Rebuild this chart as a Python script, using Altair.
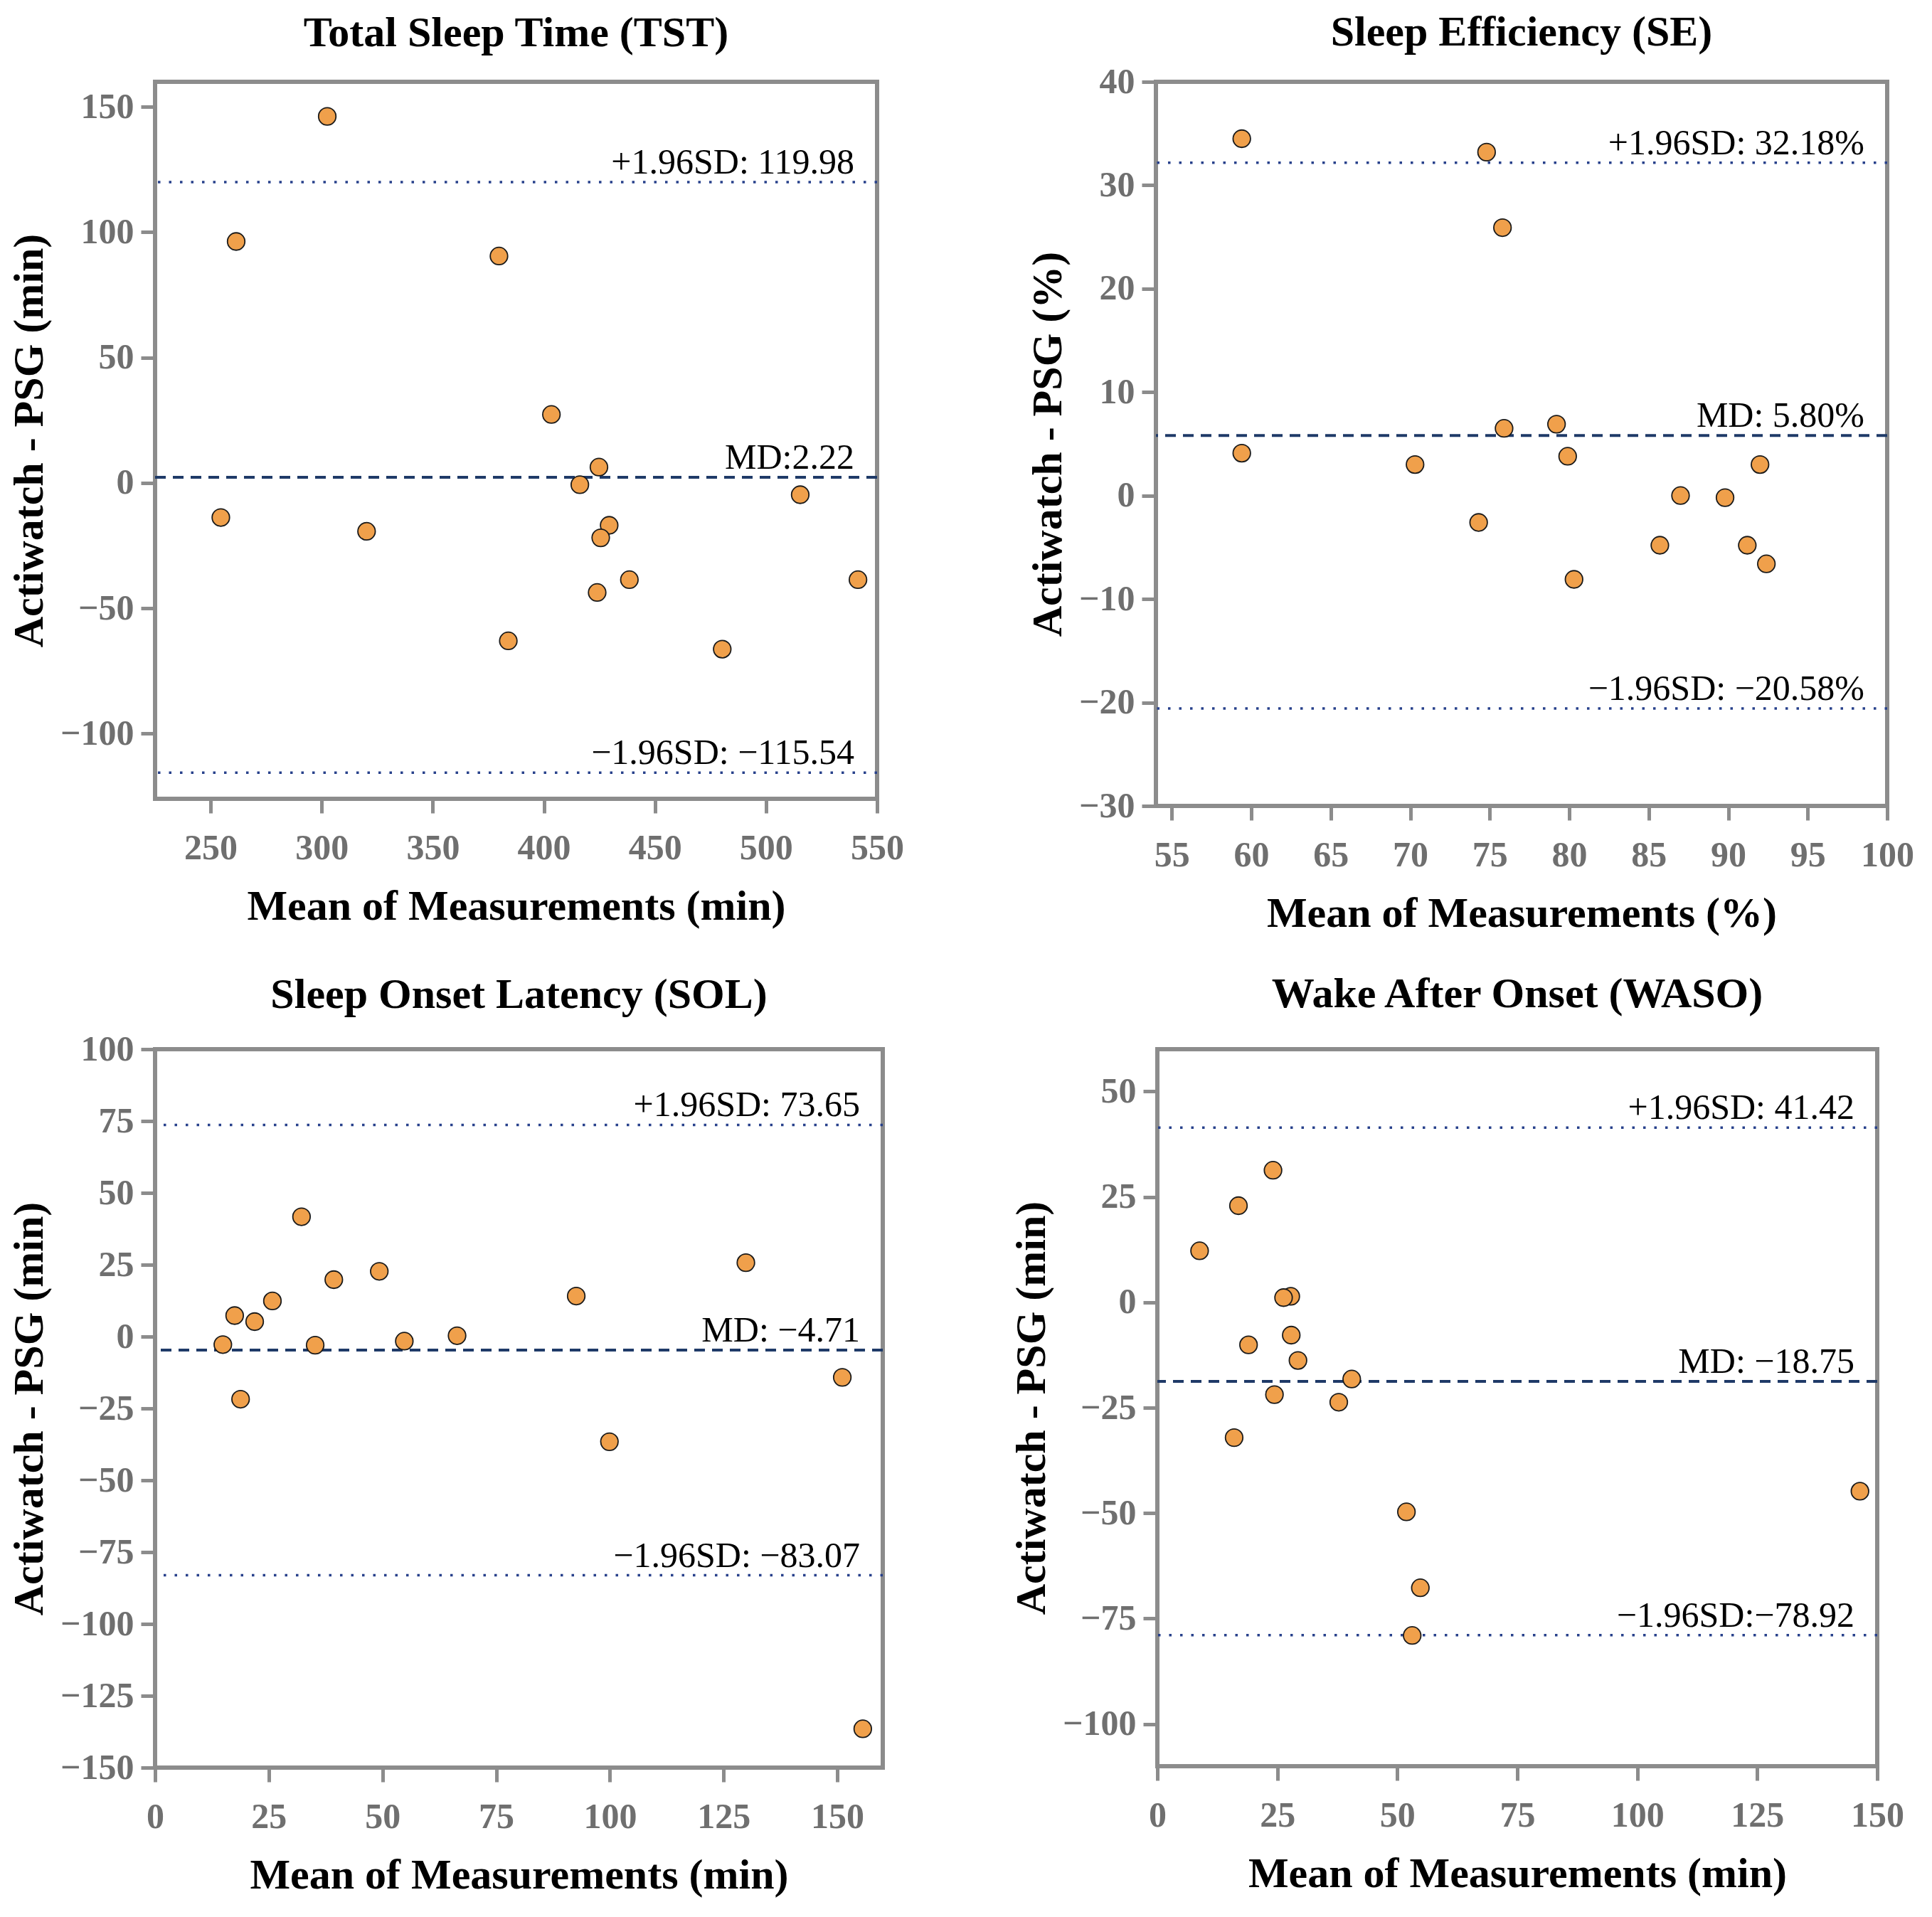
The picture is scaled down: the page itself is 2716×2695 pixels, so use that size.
import altair as alt
import pandas as pd

FONT = "Liberation Serif"

# ---- Total Sleep Time (TST) ----
tst_x = [302.5, 261.5, 379.8, 403.4, 424.8, 416.2, 515.4, 254.6, 320.2, 429.4, 425.6, 438.5, 541.4, 424.0, 384.0, 480.3]
tst_y = [146.2, 96.3, 90.5, 27.3, 6.3, -0.7, -4.7, -13.8, -19.3, -16.9, -21.9, -38.6, -38.6, -43.7, -63.0, -66.3]
tst_lines = [119.98, 2.22, -115.54]
tst_labels = ["+1.96SD: 119.98", "MD:2.22", "\u22121.96SD: \u2212115.54"]
tst_xticks = [250, 300, 350, 400, 450, 500, 550]
tst_yticks = [-100, -50, 0, 50, 100, 150]

# ---- Sleep Efficiency (SE) ----
se_x = [59.4, 74.8, 75.8, 75.9, 79.2, 59.4, 79.9, 70.3, 92.0, 87.0, 89.8, 74.3, 85.7, 91.2, 92.4, 80.3]
se_y = [34.5, 33.2, 25.9, 6.5, 6.9, 4.1, 3.8, 3.0, 3.0, 0.0, -0.2, -2.6, -4.8, -4.8, -6.6, -8.1]
se_lines = [32.18, 5.80, -20.58]
se_labels = ["+1.96SD: 32.18%", "MD: 5.80%", "\u22121.96SD: \u221220.58%"]
se_xticks = [55, 60, 65, 70, 75, 80, 85, 90, 95, 100]
se_yticks = [-30, -20, -10, 0, 10, 20, 30, 40]

# ---- Sleep Onset Latency (SOL) ----
sol_x = [32.2, 129.9, 49.3, 39.3, 92.6, 25.8, 17.5, 21.9, 66.4, 54.8, 14.9, 35.2, 18.8, 151.1, 99.9, 155.6]
sol_y = [41.7, 25.7, 22.7, 19.8, 14.1, 12.4, 7.3, 5.2, 0.3, -1.6, -2.8, -3.0, -21.8, -14.2, -36.6, -136.5]
sol_lines = [73.65, -4.71, -83.07]
sol_labels = ["+1.96SD: 73.65", "MD: \u22124.71", "\u22121.96SD: \u221283.07"]
sol_xticks = [0, 25, 50, 75, 100, 125, 150]
sol_yticks = [-150, -125, -100, -75, -50, -25, 0, 25, 50, 75, 100]

# ---- Wake After Onset (WASO) ----
waso_x = [24.1, 16.9, 8.8, 27.8, 26.3, 27.9, 19.0, 29.3, 40.5, 24.4, 37.8, 16.0, 146.4, 51.9, 54.8, 53.1]
waso_y = [31.3, 22.9, 12.2, 1.4, 1.1, -7.8, -10.1, -13.8, -18.2, -21.9, -23.7, -32.1, -44.8, -49.7, -67.7, -79.0]
waso_lines = [41.42, -18.75, -78.92]
waso_labels = ["+1.96SD: 41.42", "MD: \u221218.75", "\u22121.96SD:\u221278.92"]
waso_xticks = [0, 25, 50, 75, 100, 125, 150]
waso_yticks = [-100, -75, -50, -25, 0, 25, 50]


def panel(title, xs, ys, lines, labels, xdom, ydom, xticks, yticks,
          xtitle, ytitle, w, h, title_offset):
    pts = pd.DataFrame({"x": xs, "y": ys})
    ln = pd.DataFrame({"y": lines, "label": labels,
                       "kind": ["limit", "mean", "limit"],
                       "x": [xdom[1]] * 3})
    xsc = alt.Scale(domain=xdom, nice=False, zero=False)
    ysc = alt.Scale(domain=ydom, nice=False, zero=False)
    xaxis = alt.Axis(values=xticks, title=xtitle, labelFlush=False)
    yaxis = alt.Axis(values=yticks, title=ytitle, labelFlush=False)
    X = alt.X("x:Q", scale=xsc, axis=xaxis)
    Y = alt.Y("y:Q", scale=ysc, axis=yaxis)

    points = alt.Chart(pts).mark_point(
        shape="circle", filled=True, fill="#F0A04B", stroke="#1a1a1a",
        strokeWidth=1.8, size=600, opacity=1
    ).encode(x=X, y=Y)
    mean = alt.Chart(ln[ln.kind == "mean"]).mark_rule(
        color="#1f3a68", strokeWidth=4, strokeDash=[15, 10]
    ).encode(y=Y)
    limits = alt.Chart(ln[ln.kind == "limit"]).mark_rule(
        color="#27408b", strokeWidth=3.5, strokeDash=[3.5, 12]
    ).encode(y=Y)
    texts = alt.Chart(ln).mark_text(
        align="right", baseline="alphabetic", dx=-32, dy=-12,
        font=FONT, fontSize=50, color="black"
    ).encode(x=X, y=Y, text="label:N")
    return alt.layer(mean, limits, points, texts).properties(
        width=w, height=h,
        title=alt.TitleParams(title, offset=title_offset, baseline="bottom")
    )


tst = panel("Total Sleep Time (TST)", tst_x, tst_y, tst_lines, tst_labels,
            [225, 550], [-126, 160], tst_xticks, tst_yticks,
            "Mean of Measurements (min)", "Actiwatch - PSG (min)", 1015, 1008, -23)
se = panel("Sleep Efficiency (SE)", se_x, se_y, se_lines, se_labels,
           [54, 100], [-30, 40], se_xticks, se_yticks,
           "Mean of Measurements (%)", "Actiwatch - PSG (%)", 1028, 1018, -47)
sol = panel("Sleep Onset Latency (SOL)", sol_x, sol_y, sol_lines, sol_labels,
            [0, 160], [-150, 100], sol_xticks, sol_yticks,
            "Mean of Measurements (min)", "Actiwatch - PSG (min)", 1023, 1010, -40)
waso = panel("Wake After Onset (WASO)", waso_x, waso_y, waso_lines, waso_labels,
             [0, 150], [-110, 60], waso_xticks, waso_yticks,
             "Mean of Measurements (min)", "Actiwatch - PSG (min)", 1012, 1008, -14)

chart = alt.vconcat(
    alt.hconcat(tst, se, spacing=166),
    alt.hconcat(sol, waso, spacing=171),
    spacing=48,
).properties(
    padding={"left": 0, "top": 5, "right": 5, "bottom": 5}
).configure(
    font=FONT
).configure_view(
    stroke="#8c8c8c", strokeWidth=6
).configure_axis(
    domain=False, grid=False,
    ticks=True, tickColor="#8c8c8c", tickWidth=5, tickSize=20,
    labelFont=FONT, labelFontSize=50, labelFontWeight="bold",
    labelColor="#6f6f6f", labelPadding=10,
    titleFont=FONT, titleFontSize=60, titleFontWeight="bold",
    titleColor="black", titlePadding=12,
).configure_axisX(
    labelPadding=24, titlePadding=28
).configure_title(
    font=FONT, fontSize=60, fontWeight="bold", color="black", anchor="middle"
)

chart.save("out.html", embed_options={"renderer": "svg", "actions": False})
